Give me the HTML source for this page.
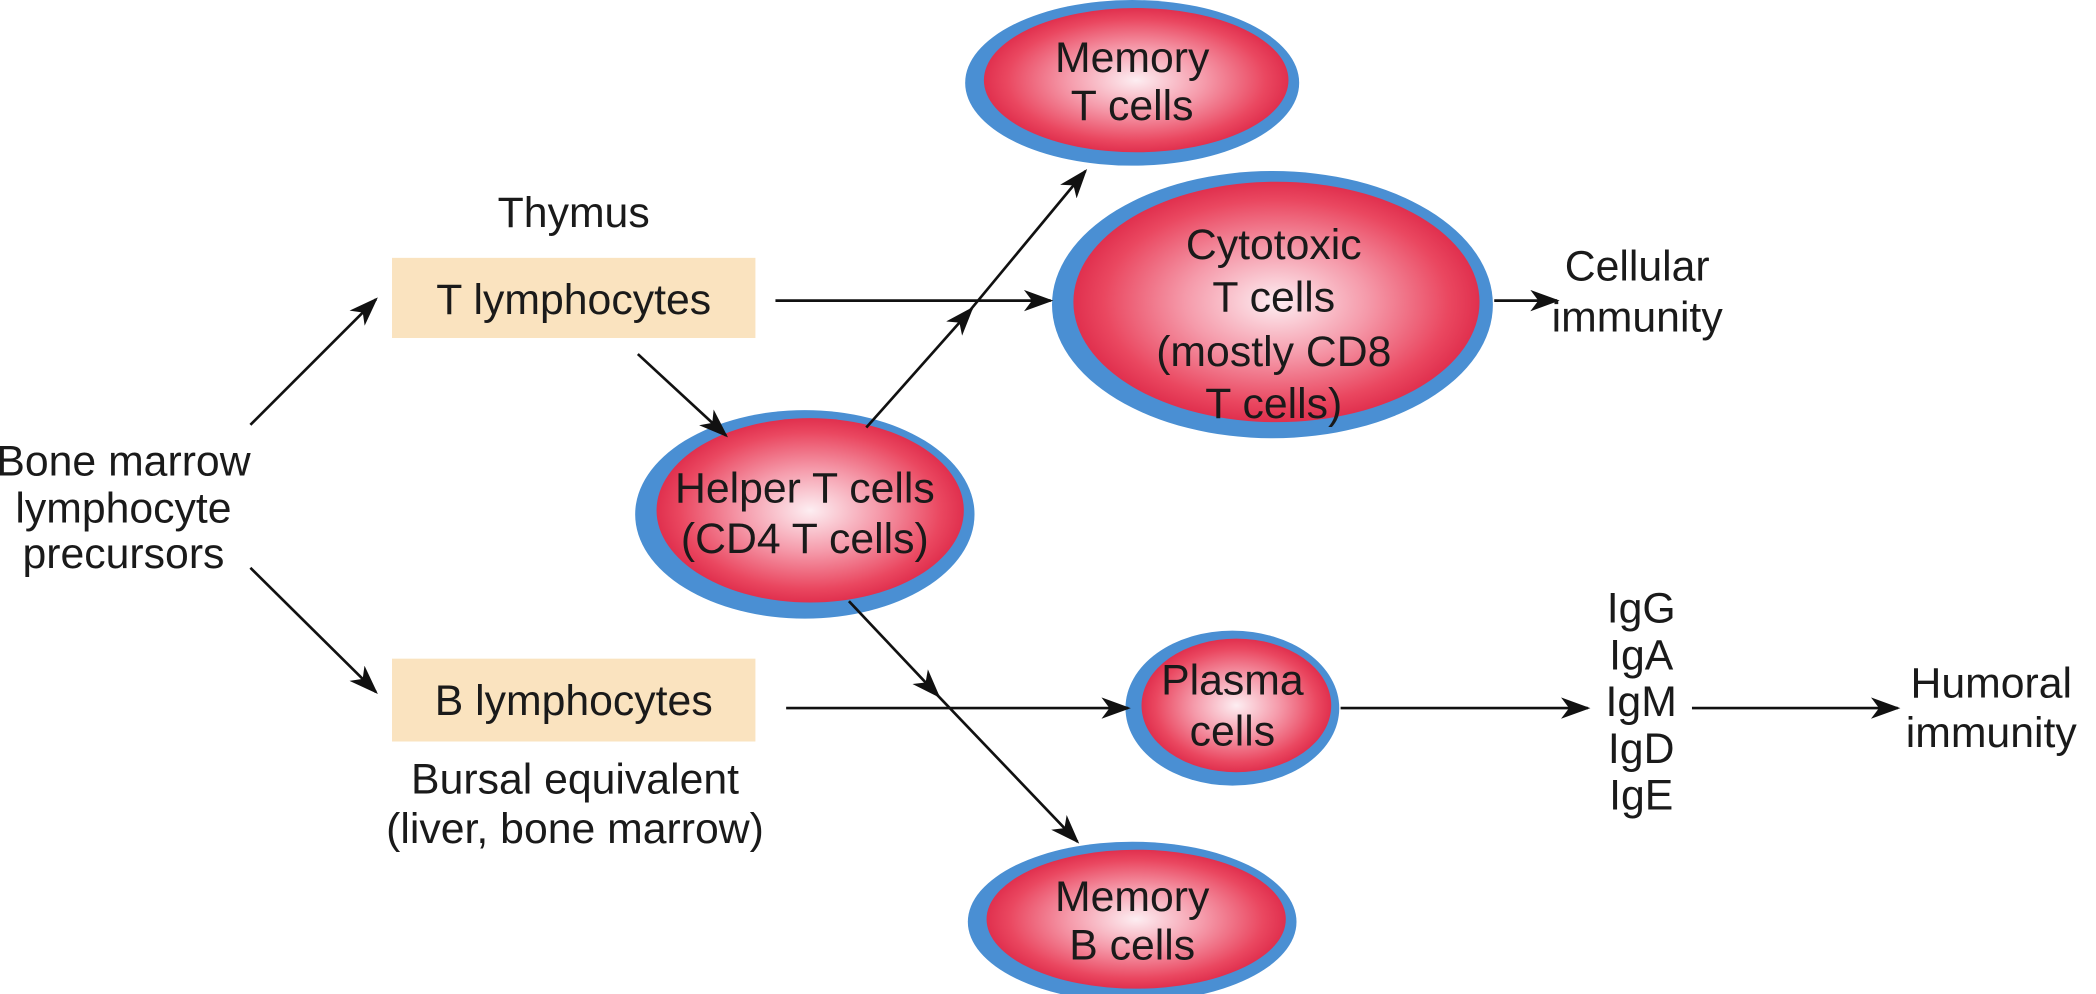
<!DOCTYPE html>
<html><head><meta charset="utf-8"><style>
html,body{margin:0;padding:0;background:#fff;}
svg{display:block}
text{font-family:"Liberation Sans",Arial,sans-serif;font-size:32px;fill:#1a1a1a;text-anchor:middle}
</style></head><body>
<svg width="2096" height="994" viewBox="0 0 1568 744" xmlns="http://www.w3.org/2000/svg">
<defs>
<radialGradient id="rg" cx="50%" cy="50%" r="50%">
<stop offset="0" stop-color="#fdeef2"/>
<stop offset="0.45" stop-color="#f59aaa"/>
<stop offset="0.85" stop-color="#ea4760"/>
<stop offset="1" stop-color="#e0304e"/>
</radialGradient>
<marker id="ah" markerWidth="10" markerHeight="10" refX="9" refY="5" orient="auto" markerUnits="userSpaceOnUse">
<path d="M0,0 L10,5 L0,10 L3,5 Z" fill="#111"/>
</marker>
<marker id="ahb" markerWidth="22" markerHeight="16" refX="20" refY="8" orient="auto" markerUnits="userSpaceOnUse">
<path d="M0,0 L22,8 L0,16 L6,8 Z" fill="#111"/>
</marker>
</defs>

<!-- boxes -->
<rect x="293" y="193" width="272" height="60" fill="#fae3bf"/>
<rect x="293" y="493" width="272" height="62" fill="#fae3bf"/>

<!-- ellipses -->
<ellipse cx="847" cy="62" rx="125" ry="62" fill="#4a8fd3"/>
<ellipse cx="850" cy="60" rx="114" ry="54" fill="url(#rg)"/>
<ellipse cx="952" cy="228" rx="165" ry="100" fill="#4a8fd3"/>
<ellipse cx="955" cy="226" rx="152" ry="90" fill="url(#rg)"/>
<ellipse cx="602" cy="385" rx="127" ry="78" fill="#4a8fd3"/>
<ellipse cx="606" cy="382" rx="115" ry="69" fill="url(#rg)"/>
<ellipse cx="922" cy="530" rx="80" ry="58" fill="#4a8fd3"/>
<ellipse cx="925" cy="528" rx="71" ry="50" fill="url(#rg)"/>
<ellipse cx="847" cy="690" rx="123" ry="60" fill="#4a8fd3"/>
<ellipse cx="850" cy="688" rx="112" ry="52" fill="url(#rg)"/>

<!-- arrows -->
<g stroke="#111" stroke-width="2" fill="none">
<line x1="187" y1="318" x2="281" y2="224" marker-end="url(#ahb)"/>
<line x1="187" y1="425" x2="281" y2="518" marker-end="url(#ahb)"/>
<line x1="580" y1="225" x2="786" y2="225" marker-end="url(#ahb)"/>
<line x1="477" y1="265" x2="543" y2="326" marker-end="url(#ahb)"/>
<line x1="648" y1="320" x2="727" y2="231" marker-end="url(#ahb)"/>
<line x1="725" y1="233" x2="812" y2="128" marker-end="url(#ahb)"/>
<line x1="1118" y1="225" x2="1165" y2="225" marker-end="url(#ahb)"/>
<line x1="635" y1="450" x2="702" y2="521" marker-end="url(#ahb)"/>
<line x1="700" y1="519" x2="806" y2="630" marker-end="url(#ahb)"/>
<line x1="588" y1="530" x2="844" y2="530" marker-end="url(#ahb)"/>
<line x1="1003" y1="530" x2="1188" y2="530" marker-end="url(#ahb)"/>
<line x1="1266" y1="530" x2="1420" y2="530" marker-end="url(#ahb)"/>
</g>

<!-- texts -->
<text x="429" y="170">Thymus</text>
<text x="429" y="235">T lymphocytes</text>
<text x="429" y="535">B lymphocytes</text>
<text x="430" y="594">Bursal equivalent</text>
<text x="430" y="631">(liver, bone marrow)</text>
<text x="92" y="356">Bone marrow</text>
<text x="92" y="391">lymphocyte</text>
<text x="92" y="425">precursors</text>
<text x="847" y="54">Memory</text>
<text x="847" y="90">T cells</text>
<text x="953" y="194">Cytotoxic</text>
<text x="953" y="233">T cells</text>
<text x="953" y="274">(mostly CD8</text>
<text x="953" y="313">T cells)</text>
<text x="602" y="376">Helper T cells</text>
<text x="602" y="414">(CD4 T cells)</text>
<text x="922" y="520">Plasma</text>
<text x="922" y="558">cells</text>
<text x="847" y="682">Memory</text>
<text x="847" y="718">B cells</text>
<text x="1225" y="210">Cellular</text>
<text x="1225" y="248">immunity</text>
<text x="1228" y="466">IgG</text>
<text x="1228" y="501">IgA</text>
<text x="1228" y="536">IgM</text>
<text x="1228" y="571">IgD</text>
<text x="1228" y="606">IgE</text>
<text x="1490" y="522">Humoral</text>
<text x="1490" y="559">immunity</text>
</svg>
</body></html>
